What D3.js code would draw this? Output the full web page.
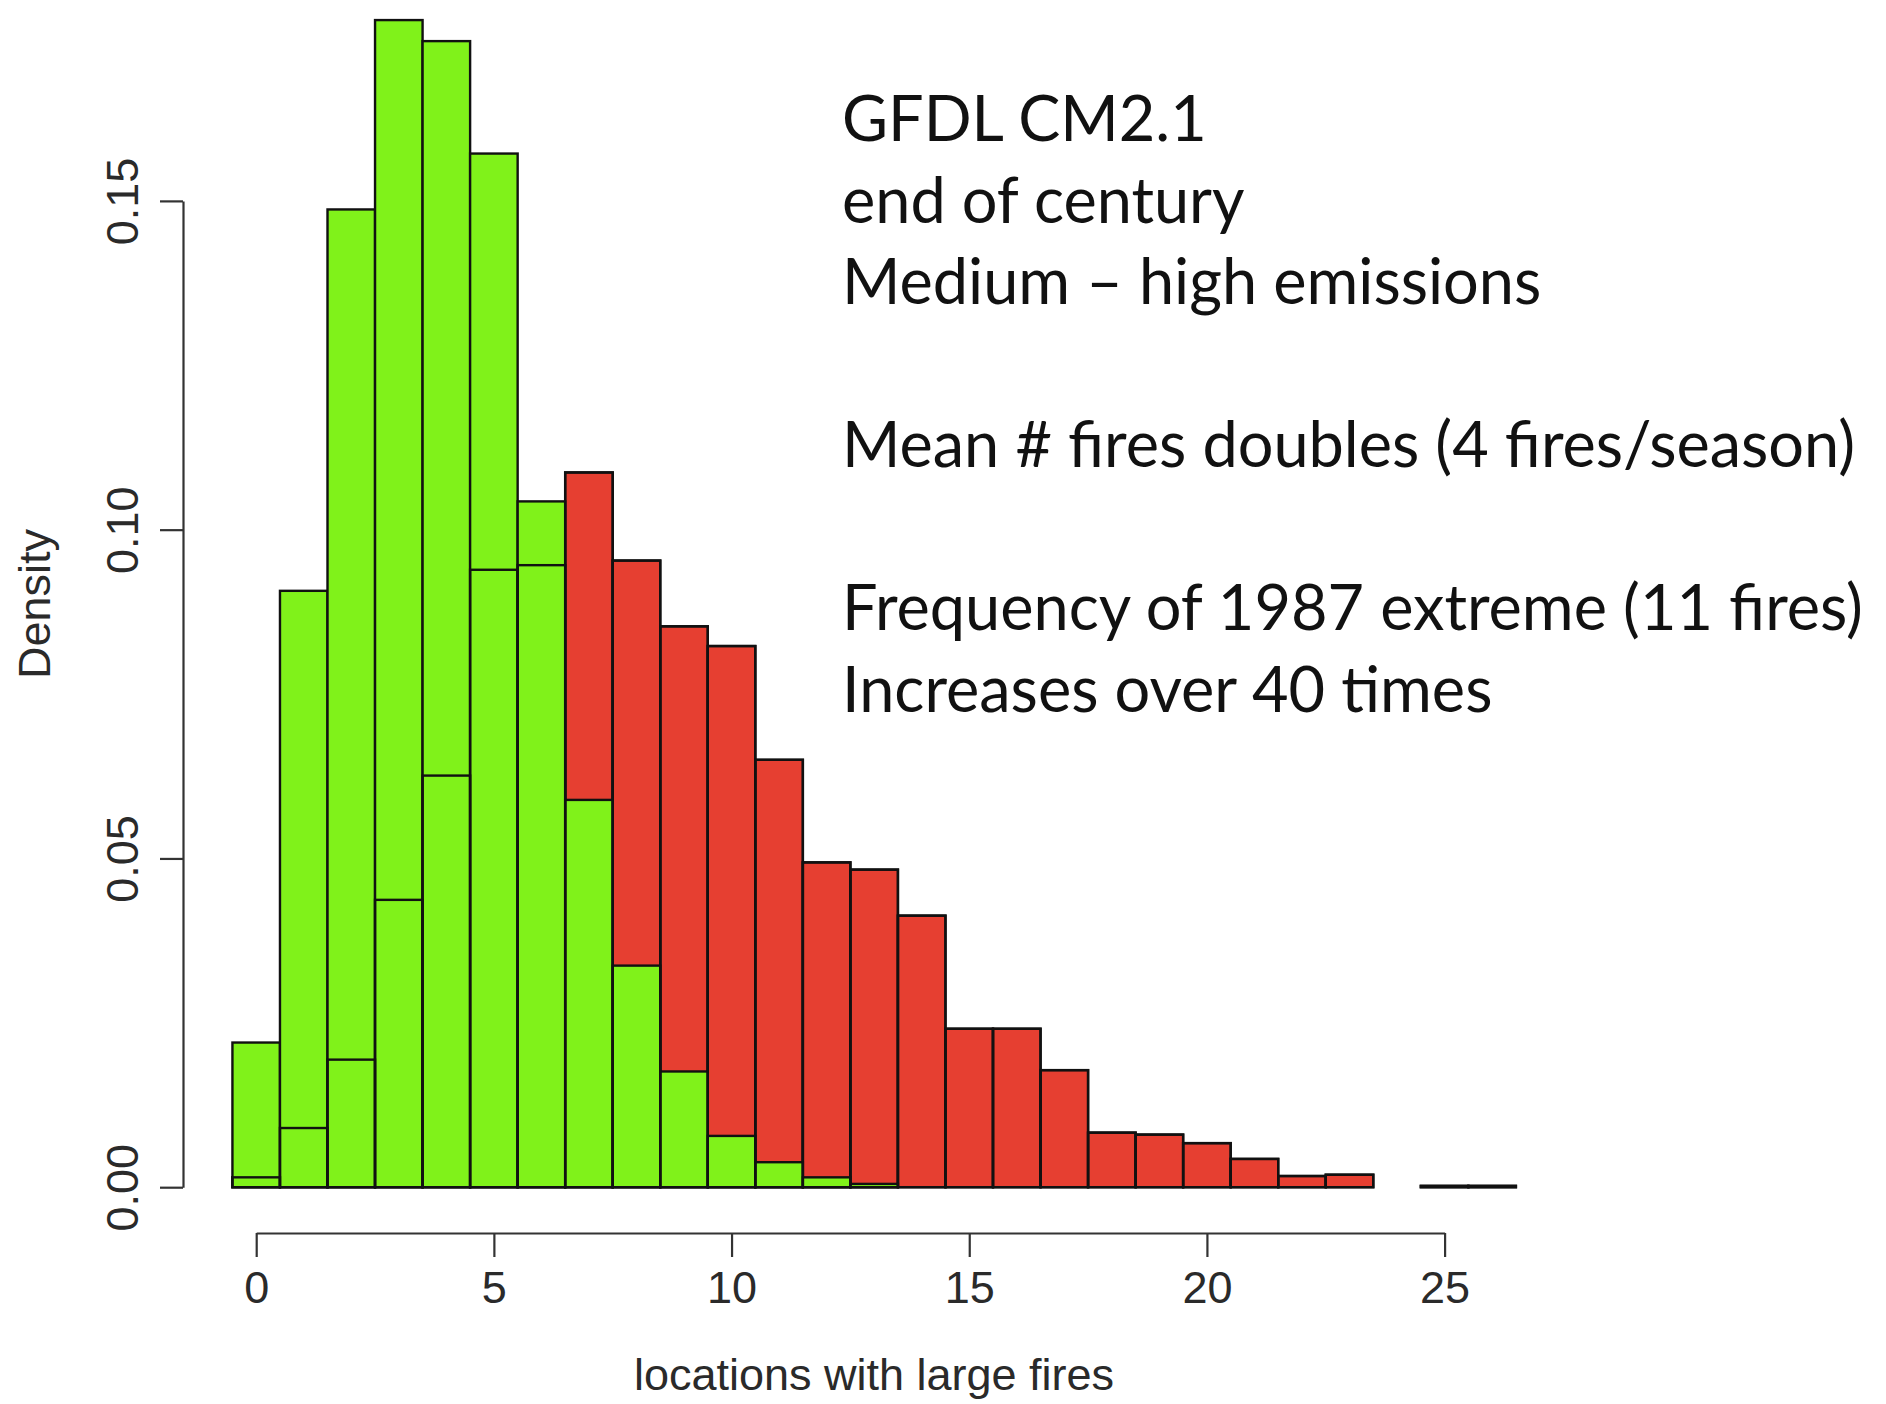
<!DOCTYPE html>
<html lang="en">
<head>
    <meta charset="UTF-8">
    <title>Large fires histogram</title>
    <script src="https://cdn.jsdelivr.net/npm/d3@7"></script>
    <style>
        body { margin: 0; background: #fff; }
    </style>
</head>
<body>
<div id="my_dataviz"></div>
<script>

    // bin centres (number of locations with large fires)
    const bins = [0, 1, 2, 3, 4, 5, 6, 7, 8, 9, 10, 11, 12, 13, 14, 15, 16, 17, 18, 19, 20, 21, 22, 23, 24, 25, 26];

    // density, present-day run (green)
    const presentDensity = [0.0220, 0.0907, 0.1487, 0.1775, 0.1743, 0.1572, 0.1043, 0.0589, 0.0337, 0.0176,
        0.0078, 0.0038, 0.0015, 0.0005];

    // density, end of century run (red)
    const futureDensity = [0.0015, 0.0090, 0.0194, 0.0437, 0.0626, 0.0939, 0.0946, 0.1087, 0.0953, 0.0853,
        0.0823, 0.0650, 0.0494, 0.0483, 0.0413, 0.0241, 0.0241, 0.0178, 0.0083, 0.0080,
        0.0067, 0.0043, 0.0017, 0.0019, 0, 0.0002, 0.0002];

    const xTicks = [0, 5, 10, 15, 20, 25];
    const yTicks = [0, 0.05, 0.10, 0.15];

    const annotation = [
        "GFDL CM2.1",
        "end of century",
        "Medium \u2013 high emissions",
        "",
        "Mean # fires doubles (4 fires/season)",
        "",
        "Frequency of 1987 extreme (11 fires)",
        "Increases over 40 times"
    ];

    const width = 1886, height = 1404;

    const svg = d3.select("#my_dataviz")
        .append("svg")
        .attr("width", width)
        .attr("height", height);

    const x = d3.scaleLinear()
        .domain([0, 25])
        .range([256.2, 1444.6]);

    const y = d3.scaleLinear()
        .domain([0, 0.15])
        .range([1187.2, 200.9]);

    const presentData = presentDensity.map((v, i) => ({bin: bins[i], value: v}));
    const futureData = futureDensity.map((v, i) => ({bin: bins[i], value: v}));

    function drawBars(data, cls, fill) {
        svg.append("g")
            .attr("class", cls)
            .selectAll("rect")
            .data(data)
            .enter()
            .append("rect")
            .attr("x", d => x(d.bin - 0.5))
            .attr("width", d => x(d.bin + 0.5) - x(d.bin - 0.5))
            .attr("y", d => y(d.value))
            .attr("height", d => y(0) - y(d.value))
            .attr("fill", fill)
            .attr("stroke", "#111")
            .attr("stroke-width", 2.4);
    }

    // red first, green over it, then the red outlines again
    drawBars(futureData, "future", "#e63f31");
    drawBars(presentData, "present", "#80f21a");
    drawBars(futureData, "future-outline", "none");

    // x axis
    const xAxis = d3.axisBottom(x)
        .tickValues(xTicks)
        .tickSize(24)
        .tickSizeOuter(0)
        .tickPadding(14);

    svg.append("g")
        .attr("class", "axis-x")
        .attr("transform", "translate(0,1233)")
        .call(xAxis);

    // y axis
    const yAxis = d3.axisLeft(y)
        .tickValues(yTicks)
        .tickSize(23)
        .tickSizeOuter(0)
        .tickFormat(d3.format(".2f"));

    const gy = svg.append("g")
        .attr("class", "y-axis")
        .attr("transform", "translate(183,0)")
        .call(yAxis);

    gy.selectAll("text")
        .attr("x", 0)
        .attr("y", -45)
        .attr("dy", 0)
        .attr("text-anchor", "middle")
        .attr("transform", "rotate(-90)");

    svg.selectAll(".axis-x path, .axis-x line, .y-axis path, .y-axis line")
        .attr("stroke", "#333")
        .attr("stroke-width", 2.2);

    svg.selectAll(".axis-x text, .y-axis text")
        .attr("fill", "#2a2a2a")
        .style("font-family", "'Liberation Sans', Arial, sans-serif")
        .style("font-size", "45px");

    // axis titles
    svg.append("text")
        .attr("x", 874)
        .attr("y", 1390)
        .attr("text-anchor", "middle")
        .attr("fill", "#2a2a2a")
        .style("font-family", "'Liberation Sans', Arial, sans-serif")
        .style("font-size", "45px")
        .text("locations with large fires");

    svg.append("text")
        .attr("transform", "translate(50,604) rotate(-90)")
        .attr("text-anchor", "middle")
        .attr("fill", "#2a2a2a")
        .style("font-family", "'Liberation Sans', Arial, sans-serif")
        .style("font-size", "45px")
        .text("Density");

    // annotation block
    svg.append("g")
        .attr("class", "note")
        .selectAll("text")
        .data(annotation)
        .enter()
        .append("text")
        .attr("x", 842)
        .attr("y", (d, i) => 141 + i * 81.5)
        .attr("fill", "#111")
        .style("font-family", "Lato, 'Open Sans', sans-serif")
        .style("font-size", "63px")
        .text(d => d);

</script>
</body>
</html>
